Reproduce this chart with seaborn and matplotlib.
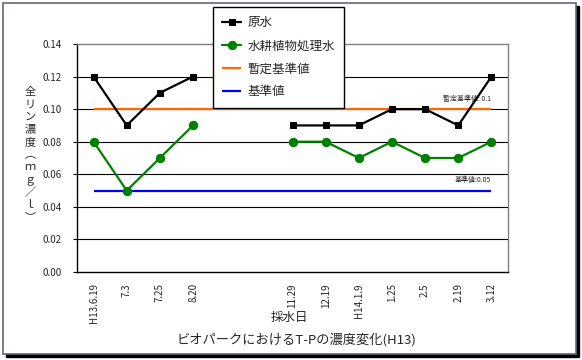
import numpy as np
import pandas as pd
import matplotlib
matplotlib.use("Agg")
import matplotlib.pyplot as plt
from matplotlib.patches import Rectangle
import seaborn as sns

# sampling dates (two empty slots between 8.20 and 11.29)
dates = ["H13.6.19", "7.3", "7.25", "8.20", "", "", "11.29", "12.19",
         "H14.1.9", "1.25", "2.5", "2.19", "3.12"]
raw_water = [0.12, 0.09, 0.11, 0.12, np.nan, np.nan, 0.09, 0.09,
             0.09, 0.10, 0.10, 0.09, 0.12]
treated_water = [0.08, 0.05, 0.07, 0.09, np.nan, np.nan, 0.08, 0.08,
                 0.07, 0.08, 0.07, 0.07, 0.08]
provisional_limit = 0.1
standard_limit = 0.05
yticks = [0.00, 0.02, 0.04, 0.06, 0.08, 0.10, 0.12, 0.14]

sns.set_style("white")
plt.rcParams['font.family'] = ['Noto Sans CJK JP', 'DejaVu Sans']

pos = np.arange(len(dates))
# split into segments so the gap is not bridged
seg = np.cumsum(np.isnan(raw_water))
df = pd.DataFrame({"pos": pos, "raw": raw_water, "treated": treated_water, "seg": seg}).dropna()

fig = plt.figure(figsize=(5.82, 3.6), dpi=100)
W, H = 582, 360

# outer frame with shadow
fig.patches.append(Rectangle((6 / W, 1 - 357 / H), 573 / W, 351 / H, transform=fig.transFigure,
                             facecolor="black", edgecolor="black", zorder=-3))
fig.patches.append(Rectangle((3 / W, 1 - 354 / H), 573 / W, 351 / H, transform=fig.transFigure,
                             facecolor="white", edgecolor="#66667f", lw=1.2, zorder=-2))
fig.patch.set_facecolor("white")

ax = fig.add_axes([77 / W, 1 - 272 / H, 431 / W, 228 / H])
ax.set_facecolor("white")
ax.patch.set_alpha(0)

for y in yticks[1:-1]:
    ax.axhline(y, color="black", lw=0.8, zorder=1)

ax.hlines(provisional_limit, pos[0], pos[-1], color="#ff6600", lw=1.6, zorder=2, label="暫定基準値")
ax.hlines(standard_limit, pos[0], pos[-1], color="#0000ff", lw=1.6, zorder=2, label="基準値")

sns.lineplot(data=df, x="pos", y="raw", units="seg", estimator=None, ax=ax,
             color="black", lw=1.6, marker="s", markersize=4.5, markeredgecolor="black",
             label="原水", zorder=4)
sns.lineplot(data=df, x="pos", y="treated", units="seg", estimator=None, ax=ax,
             color="#008000", lw=1.6, marker="o", markersize=6, markeredgecolor="#008000",
             label="水耕植物処理水", zorder=3)

ax.set_xlim(-0.5, len(dates) - 0.5)
ax.set_ylim(0, 0.14)
ax.set_yticks(yticks)
ax.set_yticklabels([f"{v:.2f}" for v in yticks], fontsize=7)
ax.set_xticks(pos)
ax.set_xticklabels(dates, rotation=90, fontsize=7, va="top")
ax.set_xticks(np.arange(len(dates) + 1) - 0.5, minor=True)
ax.tick_params(axis="x", which="major", length=0, pad=8)
ax.tick_params(axis="x", which="minor", length=3, width=0.8, color="black", direction="out")
ax.tick_params(axis="y", length=3, width=0.8, color="black", direction="out", left=True, pad=8)
ax.set_xlabel("")
ax.set_ylabel("")

for s in ["left", "bottom"]:
    ax.spines[s].set_color("black")
    ax.spines[s].set_linewidth(1)
for s in ["top", "right"]:
    ax.spines[s].set_color("#808080")
    ax.spines[s].set_linewidth(1)

ax.text(pos[-1], provisional_limit + 0.004, f"暫定基準値: {provisional_limit}",
        fontsize=5, ha="right", va="bottom")
ax.text(pos[-1], standard_limit + 0.004, f"基準値:{standard_limit}",
        fontsize=5, ha="right", va="bottom")

handles, labels = ax.get_legend_handles_labels()
order = [labels.index(l) for l in ["原水", "水耕植物処理水", "暫定基準値", "基準値"]]
leg = ax.legend([handles[i] for i in order], [labels[i] for i in order],
                loc="upper left", bbox_to_anchor=(213 / W, 1 - 7 / H), bbox_transform=fig.transFigure,
                fontsize=9, frameon=True, fancybox=False, framealpha=1, edgecolor="black",
                handlelength=1.5, labelspacing=0.8, borderpad=0.75, handletextpad=0.5,
                borderaxespad=0)
leg.get_frame().set_linewidth(1)
leg.set_zorder(10)

fig.text(30 / W, 1 - 155 / H, "全\nリ\nン\n濃\n度\n︵\nｍ\nｇ\n／\nｌ\n︶",
         fontsize=8, ha="center", va="center", linespacing=1.3)
fig.text(289 / W, 1 - 317 / H, "採水日", fontsize=9, ha="center", va="center")
fig.text(296 / W, 1 - 340 / H, "ビオパークにおけるT-Pの濃度変化(H13)", fontsize=9.5, ha="center", va="center")

fig.savefig("out.png", dpi=100)
